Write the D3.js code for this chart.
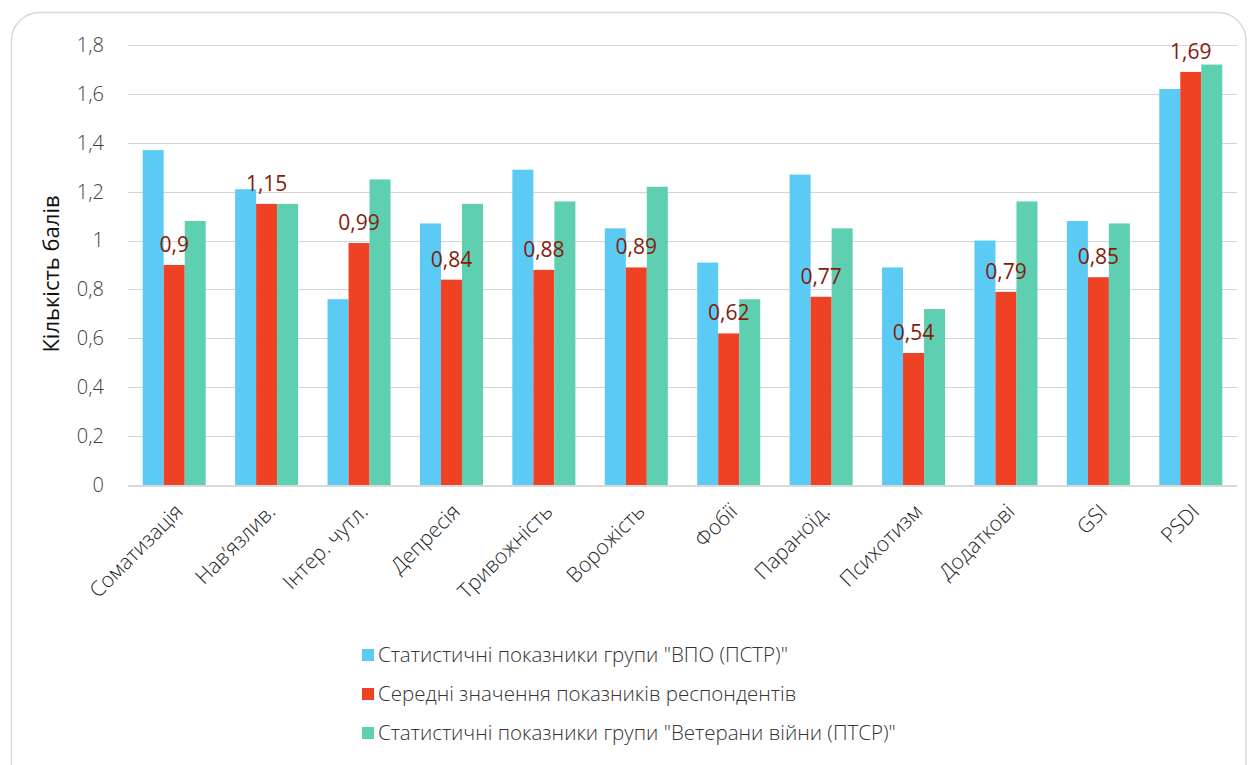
<!DOCTYPE html>
<html>
<head>
<meta charset="utf-8">
<script src="https://cdn.jsdelivr.net/npm/d3@7/dist/d3.min.js"></script>
<style>
  html, body { margin: 0; padding: 0; background: #fff; }
  svg { display: block; }
  text { font-family: "Open Sans", "Noto Sans", sans-serif; }
</style>
</head>
<body>
<svg id="chart" width="1248" height="765"></svg>
<script>
// Category labels (SCL-90 scales)
const categories = ["Соматизація", "Навʼязлив.", "Інтер. чутл.", "Депресія", "Тривожність",
  "Ворожість", "Фобії", "Параноїд.", "Психотизм", "Додаткові", "GSI", "PSDI"];

// Series values
const vpoValues = [1.37, 1.21, 0.76, 1.07, 1.29, 1.05, 0.91, 1.27, 0.89, 1.00, 1.08, 1.62];
const respondentValues = [0.9, 1.15, 0.99, 0.84, 0.88, 0.89, 0.62, 0.77, 0.54, 0.79, 0.85, 1.69];
const veteranValues = [1.08, 1.15, 1.25, 1.15, 1.16, 1.22, 0.76, 1.05, 0.72, 1.16, 1.07, 1.72];

const seriesNames = [
  "Статистичні показники групи \"ВПО (ПСТР)\"",
  "Середні значення показників респондентів",
  "Статистичні показники групи \"Ветерани війни (ПТСР)\""
];
const seriesColors = ["#5BCBF5", "#EF4123", "#5ECFB1"];
const yTicks = [0, 0.2, 0.4, 0.6, 0.8, 1, 1.2, 1.4, 1.6, 1.8];
const yTitle = "Кількість балів";

const series = [vpoValues, respondentValues, veteranValues];
const fmt = v => String(v).replace(".", ",");

const svg = d3.select("#chart");

// rounded card frame, open at the bottom edge
svg.append("rect")
  .attr("x", 11.5).attr("y", 12.5)
  .attr("width", 1246 - 11.5).attr("height", 800)
  .attr("rx", 28).attr("ry", 28)
  .attr("fill", "#fff").attr("stroke", "#d9d9d9").attr("stroke-width", 1.5);

const plot = { left: 128, right: 1237, top: 45, bottom: 485 };

const x = d3.scaleBand()
  .domain(categories)
  .range([plot.left, plot.right])
  .paddingInner(0.318)
  .paddingOuter(0.159);

const xs = d3.scaleBand()
  .domain(d3.range(series.length))
  .range([0, x.bandwidth()]);

const y = d3.scaleLinear()
  .domain([0, 1.8])
  .range([plot.bottom, plot.top]);

// gridlines
svg.append("g")
  .selectAll("line")
  .data(yTicks.filter(t => t > 0))
  .join("line")
  .attr("x1", plot.left).attr("x2", plot.right)
  .attr("y1", d => Math.round(y(d)) + 0.5).attr("y2", d => Math.round(y(d)) + 0.5)
  .attr("stroke", "#d4d4d4").attr("stroke-width", 1);

// y tick labels
const yAxis = d3.axisLeft(y).tickValues(yTicks).tickSize(0).tickPadding(0).tickFormat(fmt);
const gy = svg.append("g").attr("transform", `translate(${plot.left - 24},0)`).call(yAxis);
gy.select(".domain").remove();
gy.selectAll("text")
  .attr("font-size", 20).attr("font-weight", 300).attr("fill", "#404040");

// y axis title
svg.append("text")
  .attr("transform", "translate(59,274) rotate(-90)")
  .attr("text-anchor", "middle")
  .attr("font-size", 22)
  .attr("fill", "#111")
  .text(yTitle);

// bars
const groups = svg.append("g")
  .selectAll("g")
  .data(categories)
  .join("g")
  .attr("transform", d => `translate(${x(d)},0)`);

groups.selectAll("rect")
  .data((d, i) => series.map((s, k) => ({ k, v: s[i] })))
  .join("rect")
  .attr("x", d => xs(d.k))
  .attr("width", xs.bandwidth())
  .attr("y", d => y(d.v))
  .attr("height", d => y(0) - y(d.v))
  .attr("fill", d => seriesColors[d.k]);

// x axis baseline
svg.append("line")
  .attr("x1", plot.left).attr("x2", plot.right)
  .attr("y1", plot.bottom + 1).attr("y2", plot.bottom + 1)
  .attr("stroke", "#d9d9d9").attr("stroke-width", 2);

// value labels for respondents' means
svg.append("g")
  .selectAll("text")
  .data(categories)
  .join("text")
  .attr("x", (d, i) => x(d) + xs(1) + xs.bandwidth() / 2)
  .attr("y", (d, i) => y(respondentValues[i]) - 13)
  .attr("text-anchor", "middle")
  .attr("font-size", 21)
  .attr("fill", "#841b0b")
  .text((d, i) => fmt(respondentValues[i]));

// x tick labels, rotated
const gx = svg.append("g");
gx.selectAll("text")
  .data(categories)
  .join("text")
  .attr("transform", d => `translate(${x(d) + x.bandwidth() / 2 + 10},${plot.bottom + 28}) rotate(-45)`)
  .attr("text-anchor", "end")
  .attr("font-size", 21)
  .attr("font-weight", 300)
  .attr("fill", "#262626")
  .text(d => d);

// legend
const legend = svg.append("g").attr("transform", "translate(362,0)");
const legendY = [655, 694, 733];
seriesNames.forEach((name, k) => {
  legend.append("rect")
    .attr("x", 0).attr("y", legendY[k] - 6)
    .attr("width", 12).attr("height", 12)
    .attr("fill", seriesColors[k]);
  legend.append("text")
    .attr("x", 16).attr("y", legendY[k] + 7)
    .attr("font-size", 20.5)
    .attr("font-weight", 300)
    .attr("fill", "#333")
    .text(name);
});
</script>
</body>
</html>
